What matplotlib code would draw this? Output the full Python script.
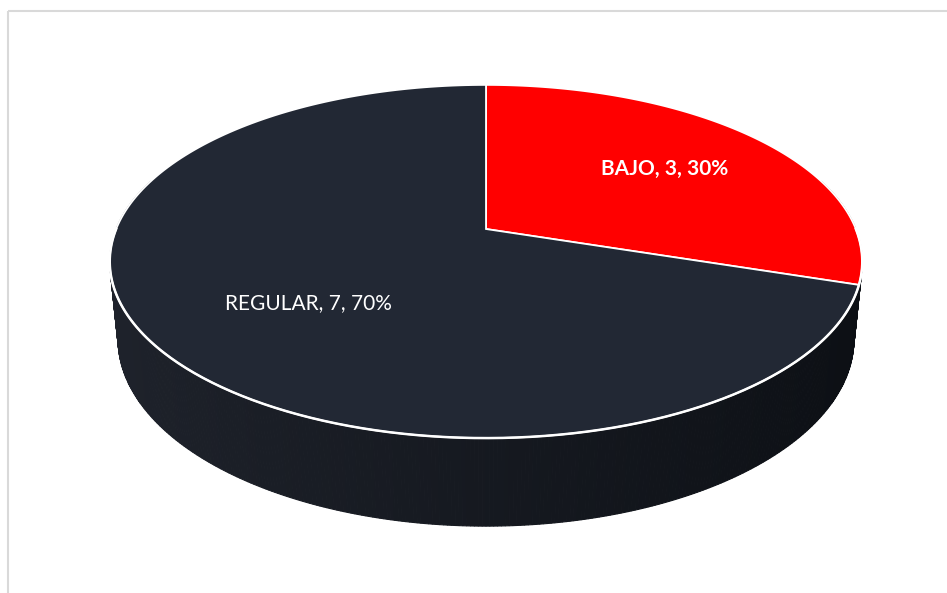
import numpy as np
import matplotlib.pyplot as plt
from matplotlib.patches import Polygon, Rectangle

# data
categories = ['BAJO', 'REGULAR']
values = [3, 7]
colors = ['#ff0000', '#222834']
label_weights = ['bold', 'normal']

W, H = 947, 593
fig = plt.figure(figsize=(W / 100, H / 100), dpi=100)
ax = fig.add_axes([0, 0, 1, 1])
ax.set_xlim(0, W)
ax.set_ylim(H, 0)
ax.axis('off')

# light frame of the chart area
ax.add_patch(Rectangle((8, 11), W, H, fill=False, edgecolor='#d9d9d9', lw=1.5))

# perspective view of a flat cylinder (Excel-like 3D pie)
elev = np.radians(27)
s_e, c_e = np.sin(elev), np.cos(elev)
D = 5.435 * c_e
fx, fy = 1791, 1820
cx, cy = 486, 229
depth = 0.234


def proj(x, y, z=0.0):
    v = y * s_e + z * c_e
    w = D + y * c_e - z * s_e
    return cx + fx * x / w, cy - fy * v / w


# side wall, drawn as thin strips with a left-to-right shade
left_col = np.array([31, 35, 44]) / 255
right_col = np.array([12, 15, 20]) / 255
t = np.linspace(np.pi, 2 * np.pi, 361)
for i in range(len(t) - 1):
    ta, tb = t[i], t[i + 1]
    pts = [proj(np.cos(ta), np.sin(ta)), proj(np.cos(tb), np.sin(tb)),
           proj(np.cos(tb), np.sin(tb), -depth), proj(np.cos(ta), np.sin(ta), -depth)]
    f = (np.cos((ta + tb) / 2) + 1) / 2
    col = left_col * (1 - f) + right_col * f
    ax.add_patch(Polygon(pts, closed=True, facecolor=col, edgecolor=col, lw=0.8, zorder=1))
# little bits of wall near the side silhouettes
for ta, tb in [(np.pi - 0.3, np.pi), (0.0, 0.3)]:
    tt = np.linspace(ta, tb, 40)
    top = [proj(np.cos(a), np.sin(a)) for a in tt]
    bot = [proj(np.cos(a), np.sin(a), -depth) for a in tt[::-1]]
    col = left_col if ta > 1 else right_col
    ax.add_patch(Polygon(top + bot, closed=True, facecolor=col, edgecolor=col, lw=0.8, zorder=0.9))

# label placement inside each slice (radius, angle shift in degrees)
label_pos = [(0.64, 0.0), (0.60, 6.0)]

# top face slices, first slice from 12 o'clock going clockwise
total = sum(values)
start = 90.0
for name, val, col, wt, (lr, dang) in zip(categories, values, colors, label_weights, label_pos):
    sweep = 360.0 * val / total
    angs = np.radians(np.linspace(start, start - sweep, 200))
    pts = [proj(0, 0)] + [proj(np.cos(a), np.sin(a)) for a in angs]
    ax.add_patch(Polygon(pts, closed=True, facecolor=col, edgecolor='white',
                         lw=1.3, joinstyle='miter', zorder=3))
    mid = np.radians(start - sweep / 2 + dang)
    lx, ly = proj(lr * np.cos(mid), lr * np.sin(mid))
    ax.text(lx, ly, '%s, %d, %d%%' % (name, val, round(100 * val / total)),
            color='white', fontsize=15, fontweight=wt, family='Lato',
            ha='center', va='center', zorder=4)
    start -= sweep

# white rim on the front edge of the top face
tt = np.linspace(np.pi, 2 * np.pi, 300)
rim = np.array([proj(np.cos(a), np.sin(a)) for a in tt])
ax.plot(rim[:, 0], rim[:, 1], color='white', lw=1.8, zorder=3.5)

fig.savefig('out.png', dpi=100)
